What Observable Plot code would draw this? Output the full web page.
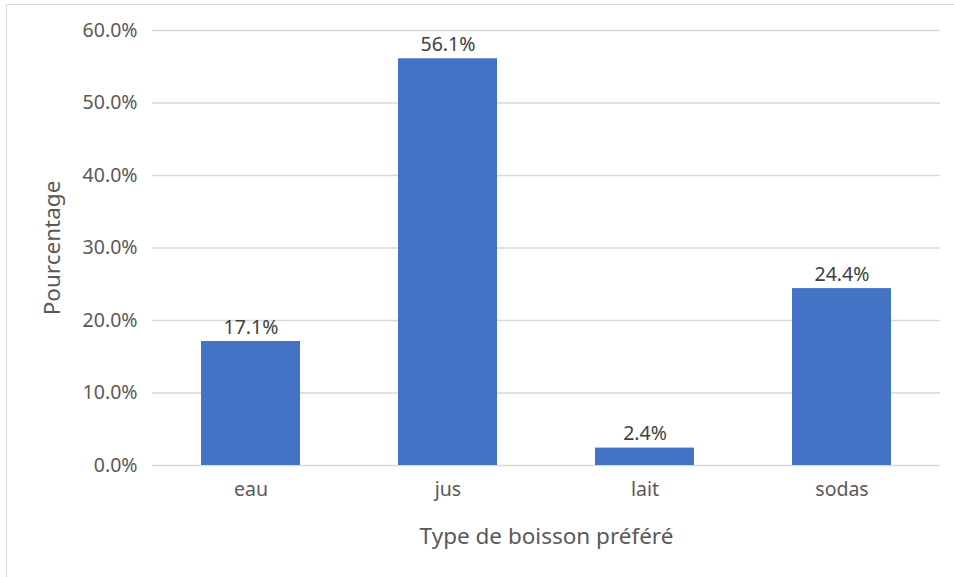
<!DOCTYPE html>
<html>
<head>
<meta charset="utf-8">
<script src="https://cdn.jsdelivr.net/npm/d3@7"></script>
<script src="https://cdn.jsdelivr.net/npm/@observablehq/plot@0.6"></script>
<style>
  html, body { margin: 0; padding: 0; background: #fff; }
  #wrap { position: relative; width: 954px; height: 577px; overflow: hidden; }
  #frame { position: absolute; left: 6px; top: 4px; width: 1000px; height: 1000px;
           border-top: 1.5px solid #d9d9d9; border-left: 1.5px solid #d9d9d9; box-sizing: border-box; }
  #chart { position: absolute; left: 0; top: 0; }
</style>
</head>
<body>
<div id="wrap"><div id="frame"></div><div id="chart"></div></div>
<script>
const categories = ["eau", "jus", "lait", "sodas"];
const values = [0.171, 0.561, 0.024, 0.244];
const yTicks = [0, 0.1, 0.2, 0.3, 0.4, 0.5, 0.6];
const xTitle = "Type de boisson préféré";
const yTitle = "Pourcentage";

const data = categories.map((c, i) => ({cat: c, val: values[i]}));
const font = "'Noto Sans', 'Open Sans', sans-serif";

const chart = Plot.plot({
  width: 954,
  height: 577,
  marginLeft: 152,
  marginRight: 14,
  marginTop: 30,
  marginBottom: 112,
  style: {fontFamily: font, fontSize: "19px", background: "transparent", overflow: "visible"},
  x: {domain: categories, paddingInner: 0.5, paddingOuter: 0.25},
  y: {domain: [0, 0.6]},
  marks: [
    Plot.ruleY(yTicks, {stroke: "#d9d9d9", strokeWidth: 1.5}),
    Plot.barY(data, {x: "cat", y: "val", fill: "#4472c4"}),
    Plot.text(data, {x: "cat", y: "val", text: d => d3.format(".1%")(d.val), dy: -14, fill: "#404040", fontSize: 19.5}),
    Plot.axisY({ticks: yTicks, tickFormat: d3.format(".1%"), tickSize: 0, tickPadding: 15, fill: "#595959", fontSize: 19.5, label: null}),
    Plot.axisX({tickSize: 0, tickPadding: 17, fill: "#595959", fontSize: 19.5, label: null}),
    Plot.text([xTitle], {frameAnchor: "bottom", dy: 78, fill: "#595959", fontSize: 22.5}),
    Plot.text([yTitle], {frameAnchor: "left", textAnchor: "middle", dx: -100, rotate: -90, fill: "#595959", fontSize: 22.5})
  ]
});
document.getElementById("chart").appendChild(chart);
</script>
</body>
</html>
